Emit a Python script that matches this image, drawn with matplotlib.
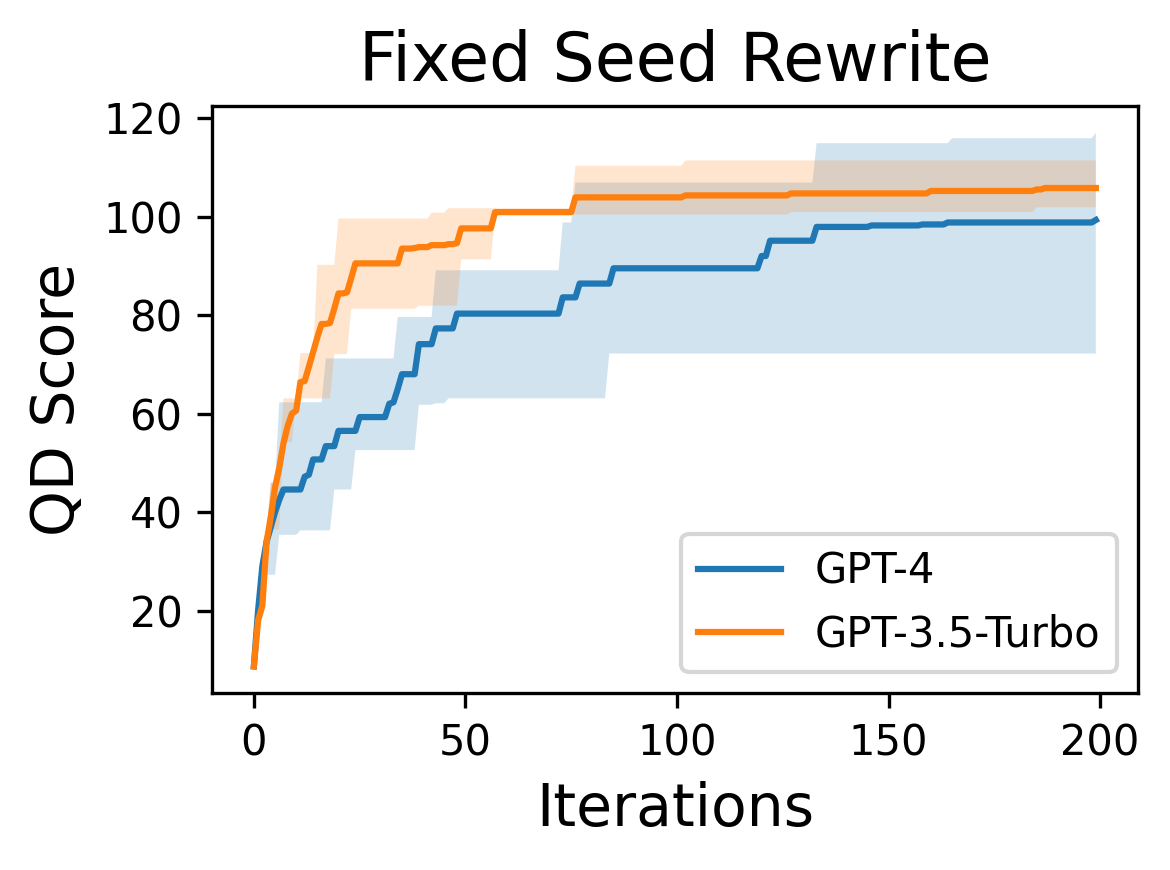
import numpy as np
import matplotlib
matplotlib.use("Agg")
import matplotlib.pyplot as plt

N_ITERS = 200

# GPT-4: (iteration where value changes, new value)
gpt4_mean_it = [0, 1, 2, 3, 4, 5, 6, 7, 12, 13, 14, 17, 20, 25, 32, 33, 34, 35, 39, 43, 48,
                73, 77, 85, 120, 122, 133, 146, 158, 164, 199]
gpt4_mean_v = [8.7, 20, 29, 34, 37, 40, 42.5, 44.6, 47.2, 47.6, 50.7, 53.4, 56.5, 59.3, 62.0, 62.3, 65, 68, 74.1, 77.3, 80.3,
               83.6, 86.4, 89.5, 92.0, 95.1, 97.9, 98.2, 98.4, 98.8, 99.3]
gpt4_hi_it = [0, 1, 2, 3, 4, 6, 17, 34, 43, 73, 76, 133, 165, 199]
gpt4_hi_v = [8.7, 22, 30, 36, 46, 62.3, 71.2, 79.6, 89.1, 98.8, 106.9, 114.9, 115.9, 117.0]
gpt4_lo_it = [0, 1, 2, 3, 6, 11, 19, 24, 39, 43, 46, 84]
gpt4_lo_v = [8.7, 17, 22, 27.3, 35.4, 36.3, 44.6, 52.6, 61.8, 62.1, 63.1, 72.2]

# GPT-3.5-Turbo
gpt35_mean_it = [0, 1, 2, 3, 4, 5, 6, 7, 8, 9, 10, 11, 12, 13, 14, 15, 16, 18, 19, 20, 22, 23, 24,
                 35, 38, 39, 42, 46, 48, 49, 57, 76, 102, 127, 160, 185, 187]
gpt35_mean_v = [8.7, 18, 21, 34, 39, 45, 49, 54, 57.5, 60, 60.6, 66.4, 66.6, 69.5, 72.5, 75.5, 78.2, 78.4, 81.3, 84.4, 84.6, 87.5, 90.5,
                93.5, 93.6, 93.8, 94.2, 94.4, 94.6, 97.6, 100.9, 103.9, 104.3, 104.7, 105.2, 105.5, 105.8]
gpt35_hi_it = [0, 1, 2, 3, 4, 6, 7, 11, 15, 20, 42, 46, 76, 102]
gpt35_hi_v = [8.7, 18, 22, 36, 46, 50, 63.1, 72.3, 90.2, 99.6, 100.8, 101.7, 110.3, 111.4]
gpt35_lo_it = [0, 1, 2, 3, 4, 7, 10, 19, 23, 39, 49, 57, 127, 185]
gpt35_lo_v = [8.7, 17, 20.5, 30, 36.5, 54.2, 63.1, 72.1, 81.3, 81.9, 91.3, 100.4, 100.9, 101.9]


def hold(iters, vals, n=N_ITERS):
    # value stays until the next change point
    out = np.empty(n)
    for i, v in zip(iters, vals):
        out[i:] = v
    return out


x = np.arange(N_ITERS)

fig = plt.figure(figsize=(3.9, 2.9), dpi=300)
ax = fig.add_axes([0.181, 0.2034, 0.7916, 0.6746])

ax.plot(x, hold(gpt4_mean_it, gpt4_mean_v), label="GPT-4")
ax.fill_between(x, hold(gpt4_lo_it, gpt4_lo_v), hold(gpt4_hi_it, gpt4_hi_v), alpha=0.2)
ax.plot(x, hold(gpt35_mean_it, gpt35_mean_v), label="GPT-3.5-Turbo")
ax.fill_between(x, hold(gpt35_lo_it, gpt35_lo_v), hold(gpt35_hi_it, gpt35_hi_v), alpha=0.2)

ax.set_title("Fixed Seed Rewrite", fontsize=16)
ax.set_xlabel("Iterations", fontsize=14)
ax.set_ylabel("QD Score", fontsize=14)
ax.legend(loc="lower right")

fig.savefig("out.png", dpi=300)
